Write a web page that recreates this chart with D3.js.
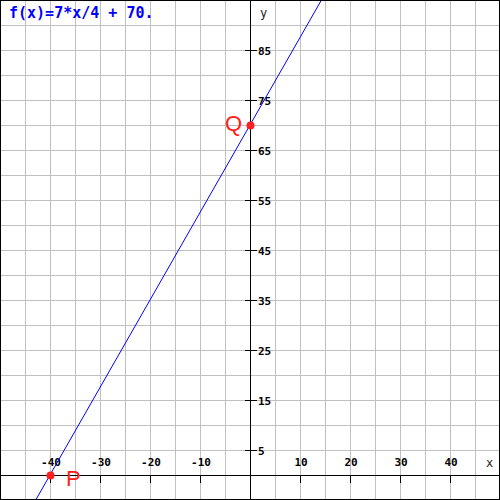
<!DOCTYPE html>
<html>
<head>
<meta charset="utf-8">
<style>
  body { margin: 0; background: #fff; }
  svg { display: block; }
</style>
</head>
<body>
<svg id="chart"></svg>
<script src="https://d3js.org/d3.v7.min.js"></script>
<script>
// data
const title = "f(x)=7*x/4 + 70.";
const slope = 7 / 4;
const intercept = 70;
const xDomain = [-50, 50];
const yDomain = [-5, 95];
const xGrid = d3.range(-45, 50, 5);
const yGrid = d3.range(0, 95, 5);
const xTicks = [-40, -30, -20, -10, 10, 20, 30, 40];
const yTicks = [5, 15, 25, 35, 45, 55, 65, 75, 85];
const pointNames = ["P", "Q"];
const pointX = [-40, 0];
const pointY = [0, 70];

const width = 500, height = 500;
const mono = "'DejaVu Sans Mono', 'Liberation Mono', monospace";

const svg = d3.select('#chart')
    .attr('width', width)
    .attr('height', height);

const x = d3.scaleLinear().domain(xDomain).range([0, width]);
const y = d3.scaleLinear().domain(yDomain).range([height, 0]);

// grid
svg.append('g').selectAll('line')
    .data(xGrid)
    .enter().append('line')
    .attr('x1', d => x(d) + 0.5).attr('x2', d => x(d) + 0.5)
    .attr('y1', 0).attr('y2', height)
    .attr('stroke', '#c0c0c0');
svg.append('g').selectAll('line')
    .data(yGrid)
    .enter().append('line')
    .attr('y1', d => y(d) + 0.5).attr('y2', d => y(d) + 0.5)
    .attr('x1', 0).attr('x2', width)
    .attr('stroke', '#c0c0c0');

// axes
svg.append('line')
    .attr('x1', 0).attr('x2', width)
    .attr('y1', y(0) + 0.5).attr('y2', y(0) + 0.5)
    .attr('stroke', '#000');
svg.append('line')
    .attr('x1', x(0) + 0.5).attr('x2', x(0) + 0.5)
    .attr('y1', 0).attr('y2', height)
    .attr('stroke', '#000');

// x ticks
svg.append('g').selectAll('line')
    .data(xTicks)
    .enter().append('line')
    .attr('x1', d => x(d) + 0.5).attr('x2', d => x(d) + 0.5)
    .attr('y1', y(0)).attr('y2', y(0) + 8)
    .attr('stroke', '#000');
svg.append('g').selectAll('text')
    .data(xTicks)
    .enter().append('text')
    .attr('x', d => x(d) + 1)
    .attr('y', y(0) - 9)
    .attr('text-anchor', 'middle')
    .style('font', "bold 11px " + mono)
    .text(d => d);

// y ticks
svg.append('g').selectAll('line')
    .data(yTicks)
    .enter().append('line')
    .attr('x1', x(0) - 5).attr('x2', x(0) + 7)
    .attr('y1', d => y(d) + 0.5).attr('y2', d => y(d) + 0.5)
    .attr('stroke', '#000');
svg.append('g').selectAll('text')
    .data(yTicks)
    .enter().append('text')
    .attr('x', x(0) + 8)
    .attr('y', d => y(d) + 5)
    .style('font', "bold 11px " + mono)
    .text(d => d);

// axis names
svg.append('text')
    .attr('x', x(0) + 10).attr('y', 17)
    .style('font', "12px " + mono)
    .attr('fill', '#222')
    .text('y');
svg.append('text')
    .attr('x', x(47.2)).attr('y', y(0) - 8)
    .style('font', "12px " + mono)
    .attr('fill', '#222')
    .text('x');

// function line
const f = v => slope * v + intercept;
svg.append('line')
    .attr('x1', x(xDomain[0])).attr('y1', y(f(xDomain[0])))
    .attr('x2', x(xDomain[1])).attr('y2', y(f(xDomain[1])))
    .attr('stroke', '#0000ff')
    .attr('stroke-width', 1);

// points
svg.append('g').selectAll('circle')
    .data(pointNames)
    .enter().append('circle')
    .attr('cx', (d, i) => x(pointX[i]) + 0.5)
    .attr('cy', (d, i) => y(pointY[i]) + 0.5)
    .attr('r', 4)
    .attr('fill', '#ff2020');

svg.append('g').selectAll('text')
    .data(pointNames)
    .enter().append('text')
    .attr('x', (d, i) => i == 0 ? x(pointX[i]) + 16 : x(pointX[i]) - 8)
    .attr('y', (d, i) => i == 0 ? y(pointY[i]) + 11 : y(pointY[i]) + 6)
    .attr('text-anchor', (d, i) => i == 0 ? 'start' : 'end')
    .style('font', "22px 'Liberation Sans', Arial, sans-serif")
    .attr('fill', '#ff2020')
    .text(d => d);

// title
svg.append('text')
    .attr('x', 9).attr('y', 18)
    .style('font', "bold 15px " + mono)
    .attr('fill', '#0000ff')
    .text(title);

// frame
svg.append('rect')
    .attr('x', 0.5).attr('y', 0.5)
    .attr('width', width - 1).attr('height', height - 1)
    .attr('fill', 'none')
    .attr('stroke', '#000');
</script>
</body>
</html>
